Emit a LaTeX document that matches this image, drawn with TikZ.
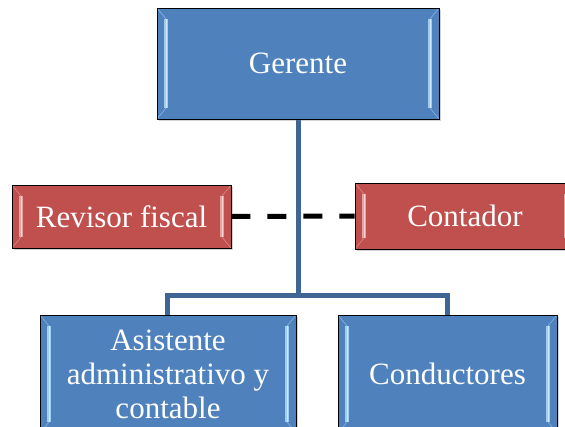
\documentclass[tikz,border=0pt]{standalone}
\usepackage{fontspec}
\setmainfont{Liberation Serif}
\usetikzlibrary{shadows}
\definecolor{boxblue}{HTML}{4F81BD}
\definecolor{boxred}{HTML}{C0504D}
\definecolor{linkblue}{HTML}{3F6594}
\definecolor{shineblue}{HTML}{9FCDF0}
\definecolor{shinered}{HTML}{E6A4A1}

\begin{document}
\begin{tikzpicture}[x=1pt,y=-1pt,
    orgbox/.style={draw=black,line width=0.8pt,text=white,align=center,
      font=\fontsize{31}{34}\selectfont,inner sep=0pt,
      drop shadow={shadow xshift=1.5pt,shadow yshift=-2pt,opacity=0.35}},
    bluebox/.style={orgbox,fill=boxblue,bevel=shineblue},
    redbox/.style={orgbox,fill=boxred,bevel=shinered},
    bevel/.style={path picture={
      \foreach \w/\c in {3.5pt/#1,1pt/#1!50!white} {
        \draw[\c,line width=\w]
          ([xshift=9pt,yshift=-11pt]path picture bounding box.north west) --
          ([xshift=9pt,yshift=11pt]path picture bounding box.south west);
        \draw[\c,line width=\w]
          ([xshift=-9pt,yshift=-11pt]path picture bounding box.north east) --
          ([xshift=-9pt,yshift=11pt]path picture bounding box.south east);
      }
      \draw[#1,line width=0.6pt,opacity=0.7]
        (path picture bounding box.north west) -- ++(9pt,-11pt)
        (path picture bounding box.south west) -- ++(9pt,11pt)
        (path picture bounding box.north east) -- ++(-9pt,-11pt)
        (path picture bounding box.south east) -- ++(-9pt,11pt);
    }},
    link/.style={draw=linkblue,line width=5pt},
    dashlink/.style={draw=black,line width=5pt,dash pattern=on 19pt off 17pt}]
\useasboundingbox (0,0) rectangle (565,426);
\clip (0,0) rectangle (565,426);

\coordinate (bar) at (298,295);
\draw[link] (298,100) -- (bar);
\draw[link] (bar) -| (167,330);
\draw[link] (bar) -| (447,330);

\node[bluebox,minimum width=282pt,minimum height=111pt] (gerente) at (298,63.5) {Gerente};
\node[redbox,minimum width=219pt,minimum height=63pt] (revisor) at (121.5,216.5) {Revisor fiscal};
\node[redbox,minimum width=220pt,minimum height=66pt] (contador) at (465,216) {Contador};
\node[bluebox,minimum width=256pt,minimum height=118pt] (asistente) at (168,374) {Asistente\\administrativo y\\contable};
\node[bluebox,minimum width=219pt,minimum height=118pt] (conductores) at (447.5,374) {Conductores};

\draw[dashlink] (revisor.east) -- (contador.west);
\end{tikzpicture}
\end{document}
